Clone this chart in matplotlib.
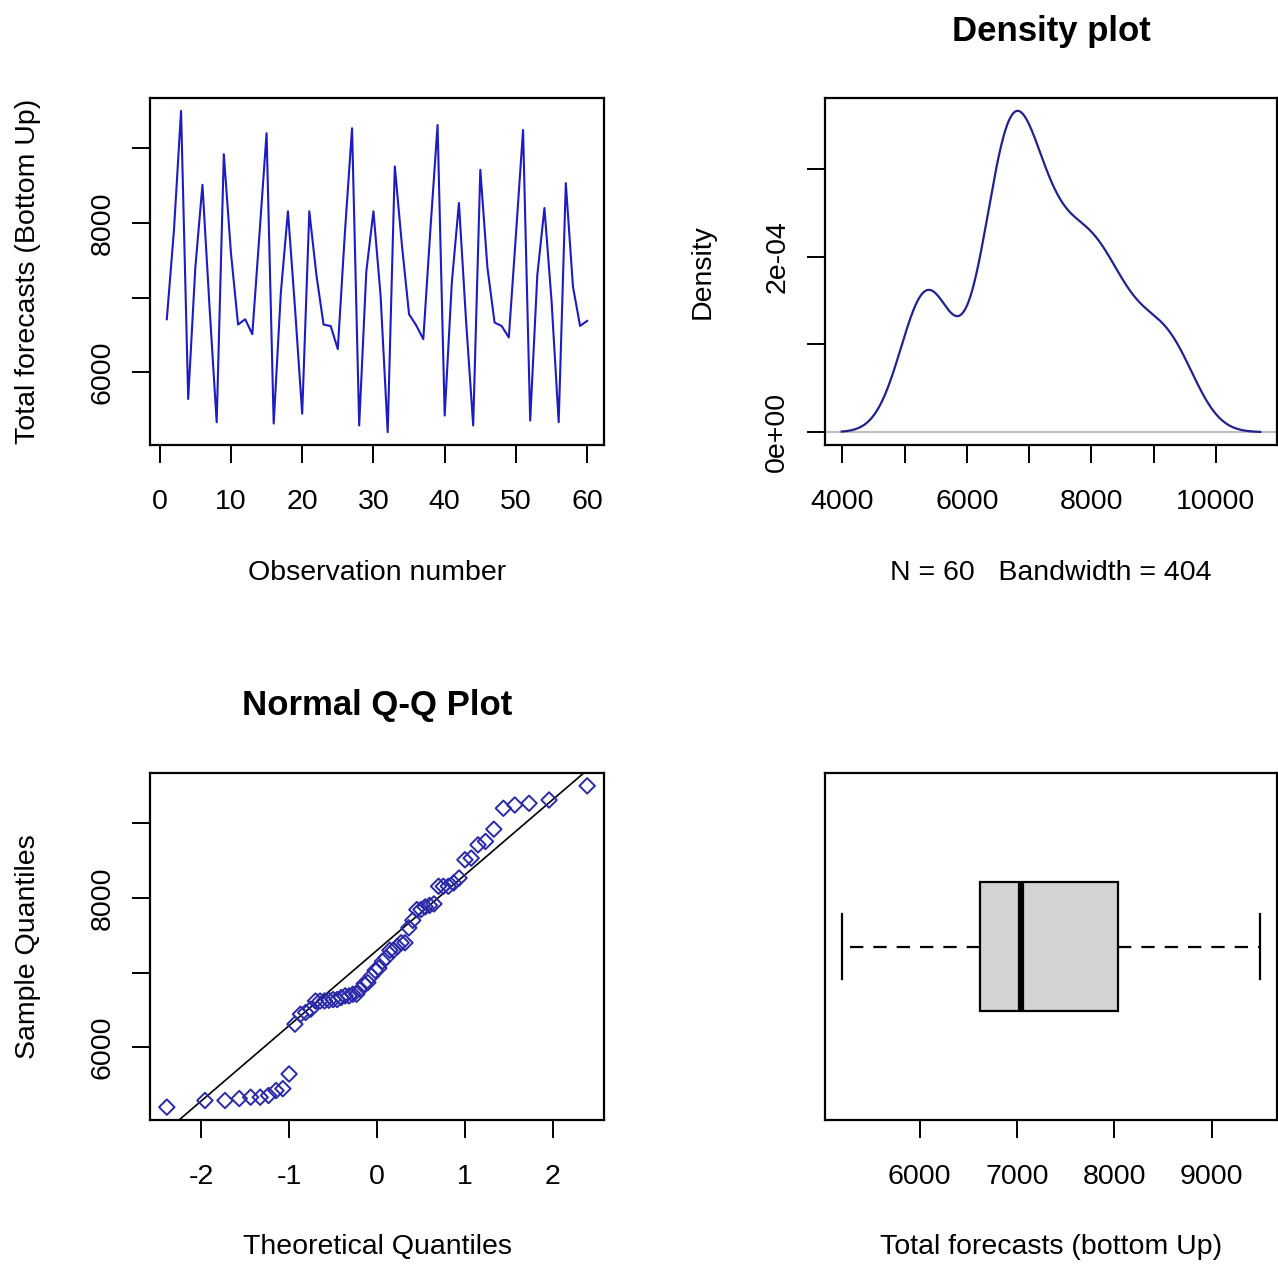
import numpy as np
import matplotlib
matplotlib.use("Agg")
import matplotlib.pyplot as plt
from statistics import NormalDist

# ---------------- data ----------------
obs_number = list(range(1, 61))
total_forecasts = [
    6711, 7900, 9500, 5644, 7400, 8511, 6867, 5333, 8920, 7600,
    6640, 6711, 6511, 7844, 9200, 5315, 7060, 8156, 6850, 5447,
    8156, 7300, 6640, 6620, 6311, 7880, 9267, 5289, 7350, 8156,
    7030, 5200, 8756, 7700, 6778, 6630, 6444, 7920, 9311, 5422,
    7200, 8267, 6689, 5289, 8711, 7400, 6667, 6620, 6467, 7844,
    9244, 5356, 7300, 8200, 6956, 5333, 8533, 7150, 6622, 6689,
]
bandwidth = 404

ts_xticks = [0, 10, 20, 30, 40, 50, 60]
ts_yticks = [6000, 7000, 8000, 9000]
ts_yticklabels = ["6000", "", "8000", ""]
dens_xticks = [4000, 5000, 6000, 7000, 8000, 9000, 10000]
dens_xticklabels = ["4000", "", "6000", "", "8000", "", "10000"]
dens_yticks = [0, 1e-4, 2e-4, 3e-4]
dens_yticklabels = ["0e+00", "", "2e-04", ""]
qq_xticks = [-2, -1, 0, 1, 2]
qq_xticklabels = ["-2", "-1", "0", "1", "2"]
box_xticks = [6000, 7000, 8000, 9000]

# ---------------- style ----------------
plt.rcParams["font.family"] = ["Liberation Sans", "DejaVu Sans"]
FS = 20.5
TFS = 25
LINE_BLUE = "#1c1cc0"
DENS_BLUE = "#22228e"
PT_BLUE = "#2a2aa8"

W, H = 1278, 1264
fig = plt.figure(figsize=(W / 100, H / 100), dpi=100)


def add_axes(l, t, r, b):
    return fig.add_axes([l / W, 1 - b / H, (r - l) / W, (b - t) / H])


def style(ax):
    for s in ax.spines.values():
        s.set_linewidth(1.6)
        s.set_color("black")
    ax.tick_params(axis="both", length=13, width=1.4, labelsize=FS, direction="out")
    ax.tick_params(axis="x", pad=19)
    ax.tick_params(axis="y", pad=12, labelrotation=90)
    for lab in ax.get_yticklabels():
        lab.set_va("center")


def r_lims(vals, frac=0.04):
    lo, hi = float(np.min(vals)), float(np.max(vals))
    d = (hi - lo) * frac
    return lo - d, hi + d


def place_labels(ax, height_px, xlab_y_px, box_bottom_px, ylab_x_px, box_left_px, width_px):
    ax.xaxis.set_label_coords(0.5, -(xlab_y_px - box_bottom_px) / height_px)
    ax.xaxis.label.set_va("center")
    if ax.get_ylabel():
        ax.yaxis.set_label_coords(-(box_left_px - ylab_x_px) / width_px, 0.5)
        ax.yaxis.label.set_va("center")


y = np.array(total_forecasts, dtype=float)
x = np.array(obs_number, dtype=float)

# ---------------- top-left: time series ----------------
ax1 = add_axes(150, 98, 604, 445)
ax1.plot(x, y, color=LINE_BLUE, lw=1.5)
ax1.set_xlim(*r_lims(x))
ax1.set_ylim(*r_lims(y))
ax1.set_xticks(ts_xticks)
ax1.set_yticks(ts_yticks)
ax1.set_yticklabels(ts_yticklabels)
ax1.set_xlabel("Observation number", fontsize=FS)
ax1.set_ylabel("Total forecasts (Bottom Up)", fontsize=FS)
style(ax1)
place_labels(ax1, 347, 573, 445, 28, 150, 454)

# ---------------- top-right: density ----------------
ax2 = add_axes(825, 98, 1277, 445)
grid = np.linspace(y.min() - 3 * bandwidth, y.max() + 3 * bandwidth, 512)
dens = np.exp(-0.5 * ((grid[:, None] - y[None, :]) / bandwidth) ** 2).sum(axis=1)
dens /= (len(y) * bandwidth * np.sqrt(2 * np.pi))
ax2.axhline(0, color="#bebebe", lw=1.5)
ax2.plot(grid, dens, color=DENS_BLUE, lw=1.6)
ax2.set_xlim(*r_lims(grid))
ax2.set_ylim(*r_lims([0, dens.max()]))
ax2.set_xticks(dens_xticks)
ax2.set_xticklabels(dens_xticklabels)
ax2.set_yticks(dens_yticks)
ax2.set_yticklabels(dens_yticklabels)
ax2.set_title("Density plot", fontsize=TFS, fontweight="bold",
              y=(445 - 31) / 347, va="center", pad=0)
ax2.set_xlabel(f"N = {len(y)}   Bandwidth = {bandwidth}", fontsize=FS)
ax2.set_ylabel("Density", fontsize=FS)
style(ax2)
place_labels(ax2, 347, 573, 445, 703, 825, 452)

# ---------------- bottom-left: QQ ----------------
ax3 = add_axes(150, 773, 604, 1120)
n = len(y)
probs = (np.arange(1, n + 1) - 0.5) / n
nd = NormalDist()
theo = np.array([nd.inv_cdf(p) for p in probs])
samp = np.sort(y)
ax3.scatter(theo, samp, marker="D", s=62, facecolors="none", edgecolors=PT_BLUE, linewidths=1.4, zorder=3)
q1, q3 = np.quantile(y, [0.25, 0.75])
z1, z3 = nd.inv_cdf(0.25), nd.inv_cdf(0.75)
slope = (q3 - q1) / (z3 - z1)
icpt = q1 - slope * z1
ax3.axline((0, icpt), slope=slope, color="black", lw=1.2)
ax3.set_xlim(*r_lims(theo))
ax3.set_ylim(*r_lims(samp))
ax3.set_xticks(qq_xticks)
ax3.set_xticklabels(qq_xticklabels)
ax3.set_yticks(ts_yticks)
ax3.set_yticklabels(ts_yticklabels)
ax3.set_title("Normal Q-Q Plot", fontsize=TFS, fontweight="bold",
              y=(1120 - 706) / 347, va="center", pad=0)
ax3.set_xlabel("Theoretical Quantiles", fontsize=FS)
ax3.set_ylabel("Sample Quantiles", fontsize=FS)
style(ax3)
place_labels(ax3, 347, 1247, 1120, 28, 150, 454)

# ---------------- bottom-right: boxplot ----------------
ax4 = add_axes(825, 773, 1277, 1120)


def fivenum(v):
    v = np.sort(v)
    m = len(v)
    n4 = np.floor((m + 3) / 2) / 2
    idx = np.array([1, n4, (m + 1) / 2, m + 1 - n4, m]) - 1
    return 0.5 * (v[np.floor(idx).astype(int)] + v[np.ceil(idx).astype(int)])


fn = fivenum(y)
stats = [dict(med=fn[2], q1=fn[1], q3=fn[3], whislo=fn[0], whishi=fn[4], fliers=[])]
ax4.bxp(stats, positions=[1], widths=0.4, orientation="horizontal", patch_artist=True,
        showfliers=False, capwidths=[0.2],
        boxprops=dict(facecolor="#d3d3d3", edgecolor="black", linewidth=1.6),
        medianprops=dict(color="black", linewidth=4.5, solid_capstyle="butt"),
        whiskerprops=dict(color="black", linewidth=1.6, linestyle=(0, (6, 4.5))),
        capprops=dict(color="black", linewidth=1.6))
ax4.set_xlim(*r_lims(y))
ax4.set_ylim(0.5 - 0.04, 1.5 + 0.04)
ax4.set_xticks(box_xticks)
ax4.set_yticks([])
ax4.set_xlabel("Total forecasts (bottom Up)", fontsize=FS)
style(ax4)
ax4.tick_params(axis="y", left=False, labelleft=False)
place_labels(ax4, 347, 1247, 1120, 0, 825, 452)

fig.savefig("out.png", dpi=100, facecolor="white")
